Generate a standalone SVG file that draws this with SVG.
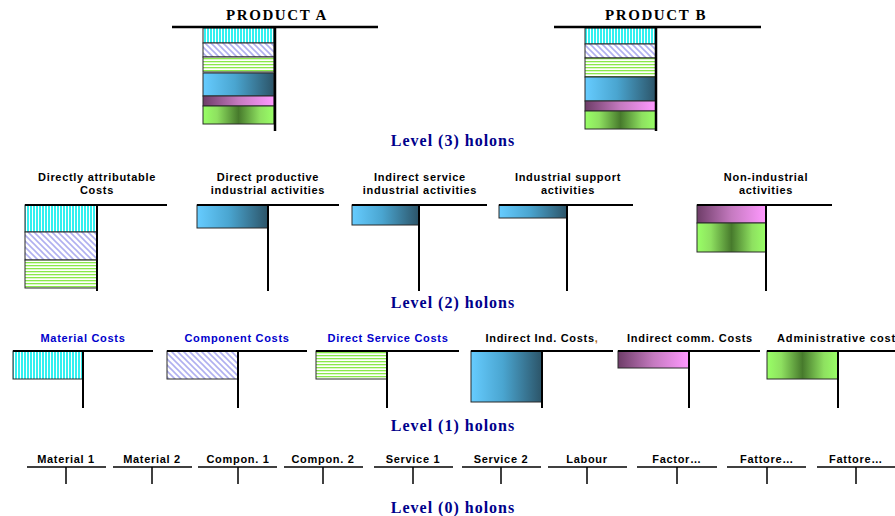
<svg xmlns="http://www.w3.org/2000/svg" width="895" height="516" viewBox="0 0 895 516">
<style>
.bar{stroke:#2a2a2a;stroke-width:1}
.ln{stroke:#000;stroke-width:2;fill:none}
.lnt{stroke:#000;stroke-width:2.5;fill:none}
.ln0{stroke:#000;stroke-width:1.5;fill:none}
.ttl{font-family:"Liberation Serif","Times New Roman",serif;font-weight:bold;font-size:15px;letter-spacing:1.6px;text-anchor:middle;fill:#000}
.lvl{font-family:"Liberation Serif","Times New Roman",serif;font-weight:bold;font-size:16px;letter-spacing:1px;text-anchor:middle;fill:#00008b}
.lab{font-family:"Liberation Sans",Arial,sans-serif;font-weight:bold;font-size:11px;letter-spacing:0.7px;text-anchor:middle;fill:#000}
.blue{fill:#0000cc}
</style>
<defs>
<pattern id="pV" width="3" height="4" patternUnits="userSpaceOnUse">
<rect width="3" height="4" fill="#ffffff"/>
<rect width="2" height="4" fill="#33f0f0"/>
</pattern>
<pattern id="pD" width="6" height="6" patternUnits="userSpaceOnUse">
<rect width="6" height="6" fill="#ffffff"/>
<path d="M-1,-1 L7,7 M-4,2 L1,7 M2,-4 L7,1" stroke="#b0b0f0" stroke-width="1.6"/>
</pattern>
<pattern id="pH" width="4" height="3" patternUnits="userSpaceOnUse">
<rect width="4" height="3" fill="#ffffff"/>
<rect y="1" width="4" height="1.3" fill="#8ae84a"/>
</pattern>
<linearGradient id="gB" x1="0" y1="0" x2="1" y2="0">
<stop offset="0" stop-color="#66ccff"/>
<stop offset="0.45" stop-color="#4aa5d0"/>
<stop offset="1" stop-color="#2c5468"/>
</linearGradient>
<linearGradient id="gP" x1="0" y1="0" x2="1" y2="0">
<stop offset="0" stop-color="#6e3d68"/>
<stop offset="0.5" stop-color="#c57ac0"/>
<stop offset="1" stop-color="#ff99ff"/>
</linearGradient>
<linearGradient id="gG" x1="0" y1="0" x2="1" y2="0">
<stop offset="0" stop-color="#99ff66"/>
<stop offset="0.2" stop-color="#8ee060"/>
<stop offset="0.5" stop-color="#477a2c"/>
<stop offset="0.8" stop-color="#8ee060"/>
<stop offset="1" stop-color="#99ff66"/>
</linearGradient>
</defs>
<rect width="895" height="516" fill="#ffffff"/>

<!-- Level 3 -->
<g id="productA">
<text class="ttl" x="277" y="20">PRODUCT A</text>
<rect class="bar" x="203" y="28" width="71" height="15" fill="url(#pV)"/>
<rect class="bar" x="203" y="43" width="71" height="14" fill="url(#pD)"/>
<rect class="bar" x="203" y="57" width="71" height="15" fill="url(#pH)"/>
<rect class="bar" x="203" y="73" width="71" height="23" fill="url(#gB)"/>
<rect class="bar" x="203" y="96" width="71" height="10" fill="url(#gP)"/>
<rect class="bar" x="203" y="106" width="71" height="18" fill="url(#gG)"/>
<line class="lnt" x1="172" y1="27" x2="378" y2="27"/>
<line class="lnt" x1="275" y1="27" x2="275" y2="131"/>
</g>
<g id="productB">
<text class="ttl" x="656" y="20">PRODUCT B</text>
<rect class="bar" x="585" y="28" width="71" height="16" fill="url(#pV)"/>
<rect class="bar" x="585" y="44" width="71" height="14" fill="url(#pD)"/>
<rect class="bar" x="585" y="58" width="71" height="19" fill="url(#pH)"/>
<rect class="bar" x="585" y="77" width="71" height="24" fill="url(#gB)"/>
<rect class="bar" x="585" y="101" width="71" height="10" fill="url(#gP)"/>
<rect class="bar" x="585" y="111" width="71" height="18" fill="url(#gG)"/>
<line class="lnt" x1="554" y1="27" x2="761" y2="27"/>
<line class="lnt" x1="656" y1="27" x2="656" y2="131"/>
</g>
<text class="lvl" x="453" y="146">Level (3) holons</text>

<!-- Level 2 -->
<g id="directlyAttributable">
<text class="lab" x="97" y="181">Directly attributable</text>
<text class="lab" x="97" y="194">Costs</text>
<rect class="bar" x="25" y="205" width="72" height="27" fill="url(#pV)"/>
<rect class="bar" x="25" y="232" width="72" height="28" fill="url(#pD)"/>
<rect class="bar" x="25" y="260" width="72" height="28" fill="url(#pH)"/>
<line class="ln" x1="25" y1="205" x2="167" y2="205"/>
<line class="ln" x1="97" y1="205" x2="97" y2="291"/>
</g>
<g id="directProductive">
<text class="lab" x="268" y="181">Direct productive</text>
<text class="lab" x="268" y="194">industrial activities</text>
<rect class="bar" x="197" y="205" width="71" height="23" fill="url(#gB)"/>
<line class="ln" x1="197" y1="205" x2="339" y2="205"/>
<line class="ln" x1="268" y1="205" x2="268" y2="291"/>
</g>
<g id="indirectService">
<text class="lab" x="420" y="181">Indirect service</text>
<text class="lab" x="420" y="194">industrial activities</text>
<rect class="bar" x="352" y="205" width="67" height="20" fill="url(#gB)"/>
<line class="ln" x1="352" y1="205" x2="487" y2="205"/>
<line class="ln" x1="419" y1="205" x2="419" y2="291"/>
</g>
<g id="industrialSupport">
<text class="lab" x="568" y="181">Industrial support</text>
<text class="lab" x="568" y="194">activities</text>
<rect class="bar" x="499" y="205" width="68" height="13" fill="url(#gB)"/>
<line class="ln" x1="499" y1="205" x2="633" y2="205"/>
<line class="ln" x1="567" y1="205" x2="567" y2="291"/>
</g>
<g id="nonIndustrial">
<text class="lab" x="766" y="181">Non-industrial</text>
<text class="lab" x="766" y="194">activities</text>
<rect class="bar" x="697" y="205" width="69" height="18" fill="url(#gP)"/>
<rect class="bar" x="697" y="223" width="69" height="29" fill="url(#gG)"/>
<line class="ln" x1="697" y1="205" x2="832" y2="205"/>
<line class="ln" x1="766" y1="205" x2="766" y2="291"/>
</g>
<text class="lvl" x="453" y="308">Level (2) holons</text>

<!-- Level 1 -->
<g id="materialCosts">
<text class="lab blue" x="83" y="342">Material Costs</text>
<rect class="bar" x="13" y="351" width="70" height="28" fill="url(#pV)"/>
<line class="ln" x1="13" y1="351" x2="153" y2="351"/>
<line class="ln" x1="83" y1="351" x2="83" y2="408"/>
</g>
<g id="componentCosts">
<text class="lab blue" x="237" y="342">Component Costs</text>
<rect class="bar" x="167" y="351" width="71" height="28" fill="url(#pD)"/>
<line class="ln" x1="167" y1="351" x2="307" y2="351"/>
<line class="ln" x1="238" y1="351" x2="238" y2="408"/>
</g>
<g id="directServiceCosts">
<text class="lab blue" x="388" y="342">Direct Service Costs</text>
<rect class="bar" x="316" y="351" width="71" height="28" fill="url(#pH)"/>
<line class="ln" x1="316" y1="351" x2="459" y2="351"/>
<line class="ln" x1="387" y1="351" x2="387" y2="408"/>
</g>
<g id="indirectIndCosts">
<text class="lab" x="542" y="342">Indirect Ind. Costs<tspan fill="#b06a20">,</tspan></text>
<rect class="bar" x="471" y="351" width="71" height="51" fill="url(#gB)"/>
<line class="ln" x1="471" y1="351" x2="613" y2="351"/>
<line class="ln" x1="542" y1="351" x2="542" y2="408"/>
</g>
<g id="indirectCommCosts">
<text class="lab" x="690" y="342">Indirect comm. Costs</text>
<rect class="bar" x="618" y="351" width="71" height="17" fill="url(#gP)"/>
<line class="ln" x1="618" y1="351" x2="760" y2="351"/>
<line class="ln" x1="689" y1="351" x2="689" y2="408"/>
</g>
<g id="administrativeCosts">
<text class="lab" x="777" y="342" style="text-anchor:start;letter-spacing:0.9px">Administrative cost</text>
<rect class="bar" x="767" y="351" width="71" height="28" fill="url(#gG)"/>
<line class="ln" x1="767" y1="351" x2="896" y2="351"/>
<line class="ln" x1="838" y1="351" x2="838" y2="408"/>
</g>
<text class="lvl" x="453" y="431">Level (1) holons</text>

<!-- Level 0 -->
<g id="material1"><text class="lab" x="66" y="463">Material 1</text><line class="ln0" x1="27" y1="467" x2="106" y2="467"/><line class="ln0" x1="66" y1="467" x2="66" y2="484"/></g>
<g id="material2"><text class="lab" x="152" y="463">Material 2</text><line class="ln0" x1="113" y1="467" x2="192" y2="467"/><line class="ln0" x1="152" y1="467" x2="152" y2="484"/></g>
<g id="compon1"><text class="lab" x="238" y="463">Compon. 1</text><line class="ln0" x1="198" y1="467" x2="277" y2="467"/><line class="ln0" x1="238" y1="467" x2="238" y2="484"/></g>
<g id="compon2"><text class="lab" x="323" y="463">Compon. 2</text><line class="ln0" x1="284" y1="467" x2="363" y2="467"/><line class="ln0" x1="323" y1="467" x2="323" y2="484"/></g>
<g id="service1"><text class="lab" x="413" y="463">Service 1</text><line class="ln0" x1="374" y1="467" x2="453" y2="467"/><line class="ln0" x1="413" y1="467" x2="413" y2="484"/></g>
<g id="service2"><text class="lab" x="501" y="463">Service 2</text><line class="ln0" x1="462" y1="467" x2="541" y2="467"/><line class="ln0" x1="501" y1="467" x2="501" y2="484"/></g>
<g id="labour"><text class="lab" x="587" y="463">Labour</text><line class="ln0" x1="548" y1="467" x2="627" y2="467"/><line class="ln0" x1="587" y1="467" x2="587" y2="484"/></g>
<g id="factor"><text class="lab" x="677" y="463">Factor…</text><line class="ln0" x1="637" y1="467" x2="717" y2="467"/><line class="ln0" x1="677" y1="467" x2="677" y2="484"/></g>
<g id="fattore1"><text class="lab" x="767" y="463">Fattore…</text><line class="ln0" x1="727" y1="467" x2="806" y2="467"/><line class="ln0" x1="767" y1="467" x2="767" y2="484"/></g>
<g id="fattore2"><text class="lab" x="856" y="463">Fattore…</text><line class="ln0" x1="817" y1="467" x2="895" y2="467"/><line class="ln0" x1="856" y1="467" x2="856" y2="484"/></g>
<text class="lvl" x="453" y="513">Level (0) holons</text>
</svg>
